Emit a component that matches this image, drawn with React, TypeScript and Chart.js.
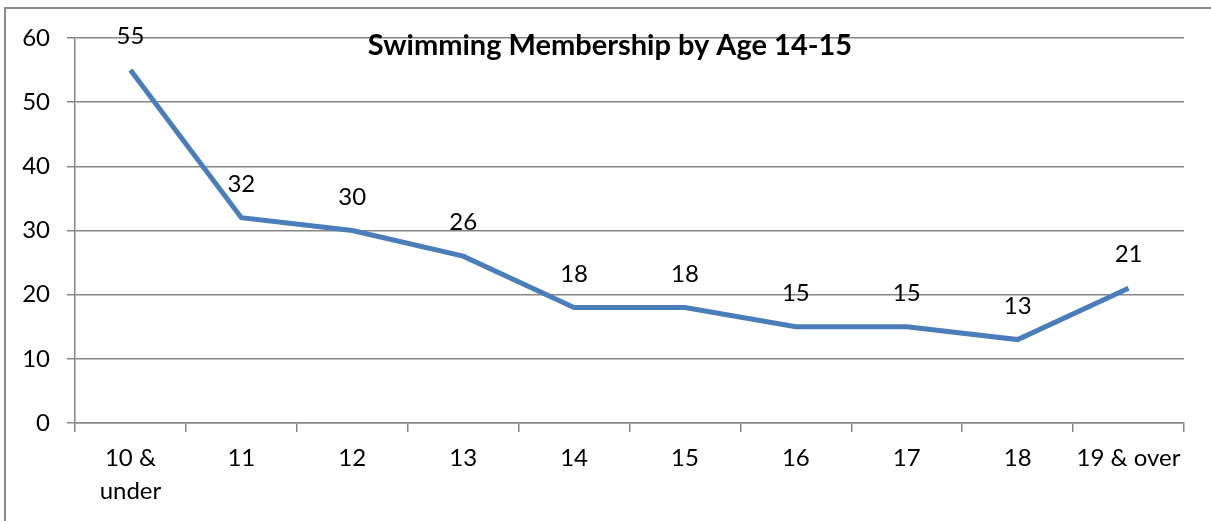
import React, { useEffect, useRef } from "react";
import { Chart, registerables } from "chart.js";

Chart.register(...registerables);

const categories: (string | string[])[] = [["10 &", "under"], "11", "12", "13", "14", "15", "16", "17", "18", "19 & over"];
const members: number[] = [55, 32, 30, 26, 18, 18, 15, 15, 13, 21];
const titleText = "Swimming Membership by Age 14-15";

const FONT = "Lato, 'Open Sans', sans-serif";

const framePlugin = {
  id: "frame",
  beforeDraw(chart: any) {
    const ctx = chart.ctx;
    ctx.save();
    ctx.fillStyle = "#ffffff";
    ctx.fillRect(0, 0, chart.width, chart.height);
    ctx.strokeStyle = "#8c8c8c";
    ctx.lineWidth = 2;
    ctx.beginPath();
    ctx.moveTo(5, chart.height + 5);
    ctx.lineTo(5, 8);
    ctx.lineTo(chart.width + 5, 8);
    ctx.stroke();
    ctx.restore();
  },
};

const labelPlugin = {
  id: "labelsAndTitle",
  afterDatasetsDraw(chart: any) {
    const ctx = chart.ctx;
    ctx.save();
    const meta = chart.getDatasetMeta(0);
    ctx.font = `24px ${FONT}`;
    ctx.fillStyle = "#000000";
    ctx.textAlign = "center";
    ctx.textBaseline = "alphabetic";
    meta.data.forEach((pt: any, i: number) => {
      ctx.fillText(String(members[i]), pt.x, pt.y - 26);
    });
    ctx.font = `bold 29px ${FONT}`;
    ctx.fillText(titleText, 610, 55);
    ctx.restore();
  },
};

export default function App() {
  const ref = useRef<HTMLCanvasElement | null>(null);
  useEffect(() => {
    if (!ref.current) return;
    const chart = new Chart(ref.current, {
      type: "line",
      data: {
        labels: categories,
        datasets: [
          {
            data: members,
            borderColor: "#4A7EBB",
            borderWidth: 5,
            pointRadius: 0,
            tension: 0,
            fill: false,
          },
        ],
      },
      options: {
        animation: false,
        responsive: false,
        layout: { padding: { top: 38, right: 27, left: 0, bottom: 0 } },
        plugins: { legend: { display: false }, tooltip: { enabled: false }, title: { display: false } },
        scales: {
          x: {
            offset: true,
            grid: { offset: true, drawOnChartArea: false, color: "#868686", tickLength: 9, lineWidth: 1.5 },
            border: { color: "#868686", width: 1.5 },
            ticks: { color: "#000000", font: { family: FONT, size: 24, lineHeight: 1.375 }, padding: 10, maxRotation: 0, autoSkip: false },
            afterFit(axis: any) {
              axis.height = 98;
            },
          },
          y: {
            min: 0,
            max: 60,
            ticks: { stepSize: 10, color: "#000000", font: { family: FONT, size: 24 }, padding: 17 },
            grid: { color: "#868686", tickLength: 8, lineWidth: 1.5 },
            border: { color: "#868686", width: 1.5 },
            afterFit(axis: any) {
              axis.width = 75;
            },
          },
        },
      },
      plugins: [framePlugin, labelPlugin],
    });
    return () => chart.destroy();
  }, []);
  return (
    <div style={{ position: "absolute", left: 0, top: 0, width: 1211, height: 521, overflow: "hidden" }}>
      <canvas ref={ref} width={1211} height={521} />
    </div>
  );
}
